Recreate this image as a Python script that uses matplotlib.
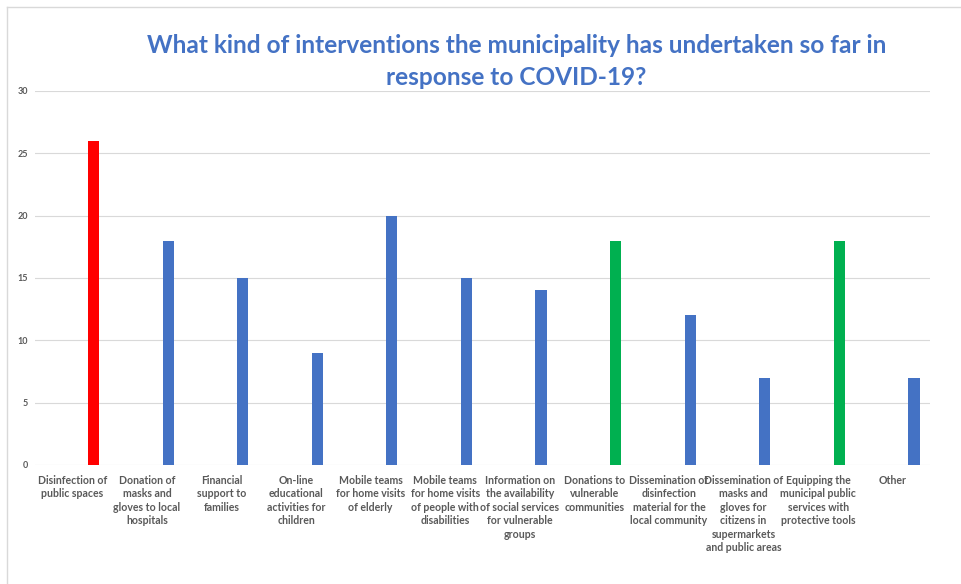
# bar chart of municipal COVID-19 interventions

import matplotlib.pyplot as plt
from matplotlib.lines import Line2D

categories = [
    "Disinfection of\npublic spaces",
    "Donation of\nmasks and\ngloves to local\nhospitals",
    "Financial\nsupport to\nfamilies",
    "On-line\neducational\nactivities for\nchildren",
    "Mobile teams\nfor home visits\nof elderly",
    "Mobile teams\nfor home visits\nof people with\ndisabilities",
    "Information on\nthe availability\nof social services\nfor vulnerable\ngroups",
    "Donations to\nvulnerable\ncommunities",
    "Dissemination of\ndisinfection\nmaterial for the\nlocal community",
    "Dissemination of\nmasks and\ngloves for\ncitizens in\nsupermarkets\nand public areas",
    "Equipping the\nmunicipal public\nservices with\nprotective tools",
    "Other",
]
counts = [26, 18, 15, 9, 20, 15, 14, 18, 12, 7, 18, 7]
bar_colors = ["#FF0000", "#4472C4", "#4472C4", "#4472C4", "#4472C4", "#4472C4",
              "#4472C4", "#00B050", "#4472C4", "#4472C4", "#00B050", "#4472C4"]
y_ticks = [0, 5, 10, 15, 20, 25, 30]

plt.rcParams["font.family"] = ["Lato", "DejaVu Sans"]

fig = plt.figure(figsize=(9.62, 5.84), dpi=100)
ax = fig.add_axes([0.0364, 0.2038, 0.9303, 0.6404])

x = list(range(len(categories)))
ax.bar([i + 0.285 for i in x], counts, width=0.15, color=bar_colors, zorder=3)

ax.set_xlim(-0.5, len(categories) - 0.5)
ax.set_ylim(0, 30)
ax.set_yticks(y_ticks)
ax.set_yticklabels([str(t) for t in y_ticks], fontsize=6.5, fontweight="bold",
                   color="#595959")
ax.set_xticks(x)
ax.set_xticklabels(categories, fontsize=7.6, fontweight="bold", color="#595959",
                   linespacing=1.28, va="top")
ax.tick_params(axis="both", length=0)
ax.tick_params(axis="x", pad=7)
ax.tick_params(axis="y", pad=5)

ax.grid(axis="y", color="#D9D9D9", linewidth=0.8, zorder=0)
for s in ax.spines.values():
    s.set_visible(False)

fig.text(0.537, 0.922, "What kind of interventions the municipality has undertaken so far in",
         ha="center", va="center", fontsize=17.6, fontweight="bold", color="#4472C4")
fig.text(0.537, 0.868, "response to COVID-19?",
         ha="center", va="center", fontsize=17.6, fontweight="bold", color="#4472C4")

# frame of the chart area (left and top edges visible)
fig.add_artist(Line2D([7 / 962, 7 / 962], [0, 1 - 7 / 584], color="#D9D9D9", lw=1))
fig.add_artist(Line2D([7 / 962, 1], [1 - 7 / 584, 1 - 7 / 584], color="#D9D9D9", lw=1))

fig.savefig("out.png", dpi=100, facecolor="white")
